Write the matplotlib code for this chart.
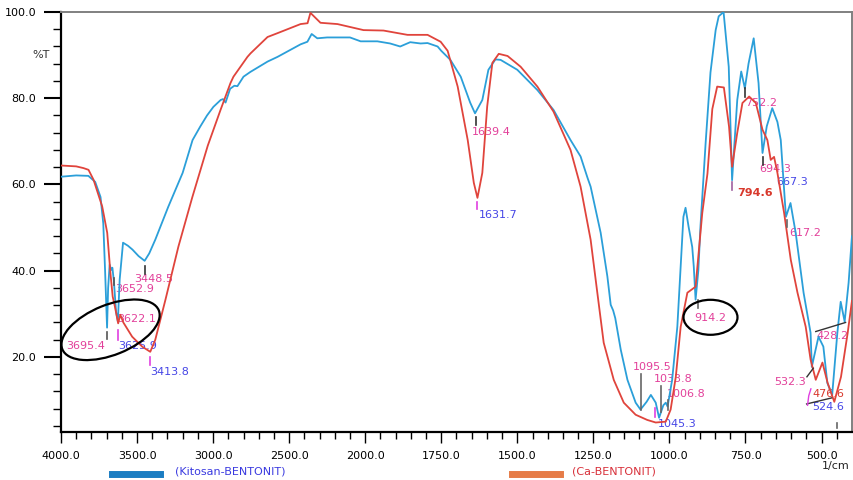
import numpy as np
import matplotlib
matplotlib.use("Agg")
import matplotlib.pyplot as plt
from matplotlib.patches import Ellipse
from matplotlib.lines import Line2D

# FTIR spectra, wavenumber (1/cm) vs %T
blue_wn = [4000, 3900, 3820, 3775, 3740, 3722, 3710, 3697, 3690, 3680, 3670, 3662, 3652,
           3638, 3626, 3614, 3592, 3560, 3530, 3490, 3450, 3420, 3380, 3295, 3200, 3135,
           3085, 3040, 2998, 2950, 2935, 2918, 2888, 2860, 2840, 2800, 2755, 2642, 2576,
           2425, 2380, 2352, 2315, 2250, 2100, 2030, 1960, 1918, 1885, 1852, 1818, 1795,
           1762, 1750, 1720, 1686, 1655, 1639, 1615, 1595, 1572, 1555, 1500, 1434, 1381,
           1325, 1292, 1269, 1259, 1226, 1204, 1193, 1185, 1178, 1160, 1138, 1111, 1095,
           1075, 1061, 1045, 1034, 1020, 1012, 1006, 991, 974, 963, 954, 947, 937, 925,
           920, 914, 905, 898, 881, 865, 848, 838, 822, 805, 794, 777, 764, 752, 740, 723,
           707, 694, 680, 662, 645, 634, 617, 602, 585, 559, 536, 532, 510, 494, 481, 465,
           448, 437, 424, 411, 400]
blue_t = [61.8, 62.1, 62.0, 60.6, 57.1, 51.0, 40.0, 26.8, 36.0, 41.4, 40.2, 40.7, 37.5,
          30.5, 28.2, 38.0, 46.5, 45.8, 44.9, 43.4, 42.3, 44.0, 47.2, 54.8, 62.7, 70.3,
          73.4, 76.0, 78.0, 79.6, 79.8, 79.0, 82.2, 82.9, 82.8, 85.0, 86.1, 88.5, 89.6,
          92.5, 93.1, 94.9, 93.9, 94.1, 94.1, 93.2, 93.2, 92.7, 92.0, 93.0, 92.7, 92.8,
          92.0, 91.0, 88.9, 85.0, 79.0, 76.5, 79.6, 86.6, 89.0, 88.9, 86.6, 81.9, 77.3,
          70.3, 66.5, 61.5, 59.5, 48.8, 38.7, 32.1, 30.8, 29.0, 21.7, 14.7, 9.4, 7.8,
          9.6, 11.2, 9.4, 5.9, 8.8, 9.4, 8.5, 14.7, 27.0, 40.9, 52.5, 54.6, 50.2, 45.5,
          41.0, 33.3, 40.0, 50.2, 69.6, 86.0, 95.8, 99.0, 100.0, 87.3, 61.0, 79.6, 86.2,
          82.3, 88.0, 93.9, 83.5, 67.3, 73.5, 77.7, 74.5, 70.3, 52.5, 55.7, 48.8, 34.9,
          25.6, 17.7, 24.7, 22.4, 14.0, 11.2, 25.6, 32.8, 28.2, 37.2, 48.0]

red_wn = [4000, 3900, 3852, 3819, 3786, 3729, 3696, 3675, 3660, 3645, 3624, 3610, 3590,
          3532, 3466, 3413, 3380, 3313, 3228, 3137, 3035, 2951, 2886, 2866, 2774, 2754,
          2642, 2576, 2425, 2379, 2360, 2294, 2182, 2011, 1940, 1861, 1795, 1752, 1729,
          1719, 1696, 1663, 1643, 1631, 1615, 1599, 1582, 1561, 1532, 1489, 1434, 1381,
          1325, 1292, 1259, 1237, 1216, 1183, 1150, 1111, 1073, 1045, 1012, 996, 979,
          963, 941, 914, 892, 875, 859, 843, 821, 804, 794, 777, 760, 738, 716, 694, 678,
          667, 656, 645, 623, 601, 579, 552, 536, 519, 497, 480, 458, 436, 414, 400]
red_t = [64.4, 64.2, 63.8, 63.4, 61.1, 54.9, 48.8, 39.5, 34.0, 31.6, 27.8, 29.8, 28.0,
         24.7, 22.4, 21.2, 24.0, 33.3, 45.6, 57.0, 69.0, 77.3, 83.5, 85.0, 89.6, 90.4,
         94.2, 95.1, 97.2, 97.4, 99.8, 97.5, 97.2, 95.8, 95.7, 94.7, 94.7, 93.1, 91.0,
         88.5, 82.7, 70.3, 60.4, 56.9, 62.7, 78.1, 88.2, 90.3, 89.8, 87.3, 82.7, 76.9,
         68.0, 59.5, 47.2, 34.9, 23.3, 14.7, 9.4, 6.6, 5.4, 4.8, 5.0, 7.8, 15.4,
         27.0, 34.9, 36.3, 53.4, 62.5, 77.5, 82.7, 82.5, 73.4, 64.1, 72.0, 78.9, 80.4,
         78.9, 72.7, 70.3, 65.7, 66.4, 62.7, 53.4, 42.5, 34.9, 27.0, 19.4, 14.7, 18.7,
         14.0, 9.6, 15.4, 25.6, 33.0]

x_major = [4000, 3500, 3000, 2500, 2000, 1750, 1500, 1250, 1000, 750, 500]
y_major = [20, 40, 60, 80, 100]

PINK = "#e2409a"
BLUE_T = "#4646e6"
RED_T = "#d8382c"

# label, text x, text y, color, tick x, tick y0, tick y1, tick color
peaks = [
    ("3448.5", 3517, 38.1, PINK, 3450, 41.1, 39.2, "#333333"),
    ("3652.9", 3642, 35.8, PINK, 3653, 38.3, 36.7, "#555555"),
    ("3622.1", 3629, 28.8, PINK, None, 0, 0, None),
    ("3695.4", 3964, 22.6, PINK, 3696, 25.8, 24.2, "#555555"),
    ("3625.9", 3622, 22.6, BLUE_T, 3628, 26.3, 23.9, "#e040e0"),
    ("3413.8", 3412, 16.5, BLUE_T, 3413, 20.0, 18.1, "#e040e0"),
    ("1639.4", 1651, 72.2, PINK, 1637, 75.7, 73.8, "#333333"),
    ("1631.7", 1628, 52.9, BLUE_T, 1631, 55.9, 54.3, "#e040e0"),
    ("1095.5", 1121, 17.7, PINK, 1092, 16.1, 7.7, "#666666"),
    ("1033.8", 1052, 14.9, PINK, 1029, 13.3, 7.2, "#666666"),
    ("1006.8", 1009, 11.4, PINK, 1005, 10.0, 7.7, "#666666"),
    ("1045.3", 1039, 4.5, BLUE_T, 1046, 8.2, 6.1, "#e040e0"),
    ("914.2", 919, 29.0, PINK, 907, 33.2, 31.4, "#666666"),
    ("752.2", 751, 78.9, PINK, 750, 82.4, 80.3, "#333333"),
    ("694.3", 706, 63.6, PINK, 691, 66.4, 64.5, "#333333"),
    ("667.3", 650, 60.6, BLUE_T, None, 0, 0, None),
    ("617.2", 605, 48.7, PINK, 615, 51.8, 50.1, "#666666"),
    ("428.2", 516, 24.9, PINK, None, 0, 0, None),
    ("532.3", 655, 14.2, PINK, None, 0, 0, None),
    ("524.6", 532, 8.4, BLUE_T, 450, 4.7, 3.5, "#666666"),
]


def fwd(w):
    w = np.asarray(w, dtype=float)
    return np.where(w >= 2000, w / 500.0, 4.0 - (2000.0 - w) / 250.0)


def inv(u):
    u = np.asarray(u, dtype=float)
    return np.where(u >= 4, u * 500.0, 2000.0 - (4.0 - u) * 250.0)


fig = plt.figure(figsize=(8.54, 4.8), dpi=100)
ax = fig.add_axes([0.0714, 0.1, 0.9262, 0.875])
ax.set_xscale("function", functions=(fwd, inv))

ax.plot(blue_wn, blue_t, color="#2b9fd9", lw=1.3, zorder=3)
ax.plot(red_wn, red_t, color="#e0443c", lw=1.3, zorder=3)

ax.set_xlim(4000, 400)
ax.set_ylim(2.6, 100)

x_minor = [w for w in range(3900, 2000, -100) if w not in x_major] + \
          [w for w in range(1950, 400, -50) if w not in x_major]
ax.set_xticks(x_major)
ax.set_xticklabels([f"{v:.1f}" for v in x_major])
ax.set_xticks(x_minor, minor=True)
ax.set_yticks(y_major)
ax.set_yticklabels([f"{v:.1f}" for v in y_major])
ax.set_yticks([v for v in range(4, 100, 4) if v not in y_major], minor=True)

ax.tick_params(axis="x", which="major", direction="out", length=8, width=1, labelsize=8, pad=6)
ax.tick_params(axis="x", which="minor", direction="out", length=5, width=1)
ax.tick_params(axis="y", which="major", direction="out", length=12, width=1.5, labelsize=8, pad=6)
ax.tick_params(axis="y", which="minor", direction="out", length=6, width=1)

for s in ("left", "bottom"):
    ax.spines[s].set_linewidth(1.6)
    ax.spines[s].set_color("black")
for s in ("top", "right"):
    ax.spines[s].set_linewidth(1.4)
    ax.spines[s].set_color("#808080")

# peak labels
for lab, tx, ty, col, kx, k0, k1, kcol in peaks:
    ax.text(tx, ty, lab, color=col, fontsize=8, ha="left", va="center", zorder=2)
    if kx is not None:
        ax.plot([kx, kx], [k0, k1], color=kcol, lw=1.2, zorder=4)

ax.text(529, 11.4, "476.6", color=RED_T, fontsize=8, ha="left", va="center", zorder=2)
ax.text(778, 58.1, "794.6", color=RED_T, fontsize=8, fontweight="bold", ha="left", va="center")
ax.plot([793, 793], [60.6, 58.7], color="#a060a0", lw=1.2, zorder=4)

# leader lines
ax.plot([519, 421], [25.9, 28.0], color="#333333", lw=1.0, zorder=4)
ax.plot([548, 527], [15.4, 17.4], color="#333333", lw=1.0, zorder=4)
ax.plot([549, 467], [9.1, 10.5], color="#333333", lw=1.0, zorder=4)
ax.plot([546, 542, 535], [8.8, 11.0, 12.6], color="#e040e0", lw=1.0, zorder=4)

# ellipses, centres taken from data coords
for (cw, ct, w_in, h_in, ang) in [(3674, 26.3, 1.04, 0.50, 22), (865, 29.2, 0.54, 0.35, 0)]:
    cx, cy = ax.transData.transform((cw, ct)) / fig.dpi
    fig.add_artist(Ellipse((cx, cy), w_in, h_in, angle=ang, fill=False,
                           edgecolor="black", lw=1.6, transform=fig.dpi_scale_trans))

fig.text(32 / 854, 1 - 55 / 480, "%T", fontsize=8, color="#333333", ha="left", va="center")
fig.text(822 / 854, 1 - 466 / 480, "1/cm", fontsize=8, color="#222222", ha="left", va="center")

# legend
fig.add_artist(Line2D([112 / 854, 160 / 854], [1 - 474 / 480] * 2, color="#1b7dc2", lw=5,
                      transform=fig.transFigure))
fig.text(175 / 854, 1 - 472 / 480, "(Kitosan-BENTONIT)", fontsize=8, color="#3a3ae0",
         ha="left", va="center")
fig.add_artist(Line2D([512 / 854, 560 / 854], [1 - 474 / 480] * 2, color="#e67c48", lw=5,
                      transform=fig.transFigure))
fig.text(572 / 854, 1 - 472 / 480, "(Ca-BENTONIT)", fontsize=8, color="#d8303a",
         ha="left", va="center")

fig.savefig("out.png", dpi=100)
